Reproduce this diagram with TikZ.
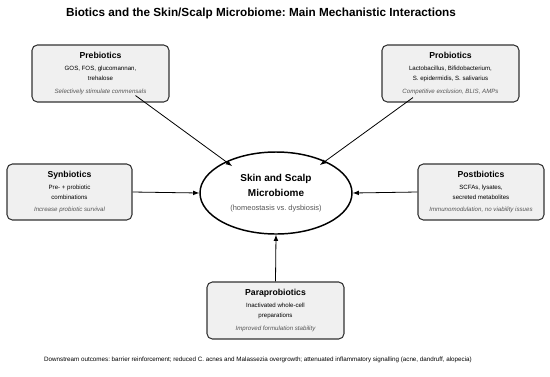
\documentclass[tikz,border=0pt]{standalone}
\usepackage{fontspec}
\setmainfont{Liberation Sans}
\usetikzlibrary{shapes.geometric}
\definecolor{boxfill}{HTML}{F0F0F0}
\definecolor{boxline}{HTML}{333333}
\definecolor{notegray}{HTML}{555555}
\frenchspacing
\newcommand{\bioname}[1]{{\fontsize{6.5}{8}\selectfont\bfseries #1}}
\newcommand{\bionote}[1]{{\itshape\color{notegray}#1}}

\tikzset{%
  every biotic/.style={
    draw=boxline,
    fill=boxfill,
    rounded corners=4pt,
    line width=0.8pt,
    align=center,
    inner sep=0pt,
    font=\fontsize{4.6}{7.5}\selectfont
  },
  core/.style={
    ellipse,
    draw=black,
    fill=white,
    line width=1.1pt,
    minimum width=114pt,
    minimum height=61.5pt,
    inner sep=0pt,
    align=center
  },
  link/.style={
    -latex,
    draw=black,
    line width=0.6pt
  },
}

\begin{document}
\begin{tikzpicture}[x=0.75pt,y=-0.75pt]
  \useasboundingbox (0,0) rectangle (550,376);
  \node (TITLE) at (261, 13) {\fontsize{8.8}{11}\selectfont\bfseries Biotics and the Skin/Scalp Microbiome: Main Mechanistic Interactions};
  \node [core] (mic) at (276, 193) {\fontsize{7.5}{9.5}\selectfont\bfseries Skin and Scalp\\[-0.5pt]\fontsize{7.5}{9.5}\selectfont\bfseries Microbiome\\[-1.5pt]\fontsize{5.6}{7}\selectfont\color{notegray}(homeostasis vs.\ dysbiosis)};
  \node [every biotic, minimum width=102.75pt, minimum height=42.75pt] (pre) at (100.5, 73.5)
    {\bioname{Prebiotics}\\[1.5pt] GOS, FOS, glucomannan,\\ trehalose\\[2pt] \bionote{Selectively stimulate commensals}};
  \node [every biotic, minimum width=102.75pt, minimum height=42.75pt] (pro) at (450.5, 73.5)
    {\bioname{Probiotics}\\[1.5pt] Lactobacillus, Bifidobacterium,\\ S. epidermidis, S. salivarius\\[2pt] \bionote{Competitive exclusion, BLIS, AMPs}};
  \node [every biotic, minimum width=93.75pt, minimum height=42pt] (syn) at (69.5, 192)
    {\bioname{Synbiotics}\\[1.5pt] Pre- + probiotic\\ combinations\\[2pt] \bionote{Increase probiotic survival}};
  \node [every biotic, minimum width=94.5pt, minimum height=42pt] (post) at (481, 192)
    {\bioname{Postbiotics}\\[1.5pt] SCFAs, lysates,\\ secreted metabolites\\[2pt] \bionote{Immunomodulation, no viability issues}};
  \node [every biotic, minimum width=102.75pt, minimum height=42.75pt] (para) at (275.5, 310.5)
    {\bioname{Paraprobiotics}\\[1.5pt] Inactivated whole-cell\\ preparations\\[2pt] \bionote{Improved formulation stability}};
  \node (FOOT) at (258, 360) {\fontsize{4.7}{6}\selectfont Downstream outcomes: barrier reinforcement; reduced C. acnes and Malassezia overgrowth; attenuated inflammatory signalling (acne, dandruff, alopecia)};
\draw [link] ([shift={(35,-7)}]pre.south) -- ([shift={(-44,-27)}]mic.center);
\draw [link] ([shift={(-37.5,-5)}]pro.south) -- ([shift={(44,-28)}]mic.center);
\draw [link] (syn.east) -- (mic.west);
\draw [link] (post.west) -- (mic.east);
\draw [link] (para.north) -- (mic.south);
\end{tikzpicture}
\end{document}
